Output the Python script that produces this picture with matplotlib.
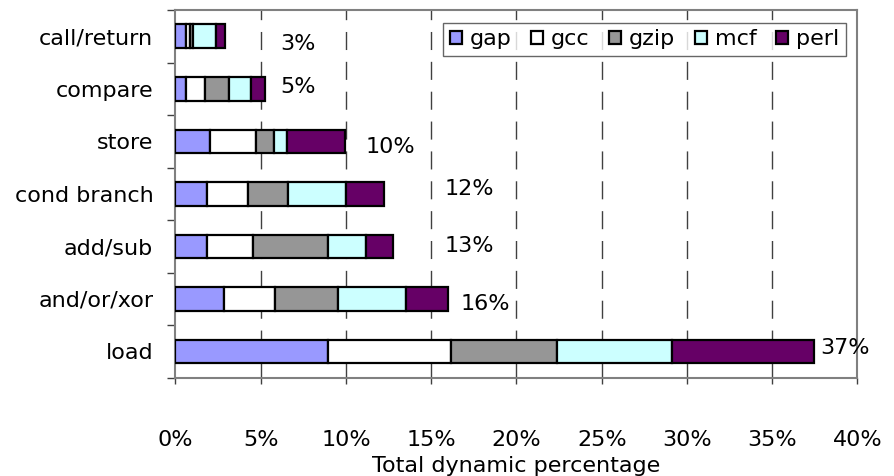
import matplotlib
matplotlib.use("Agg")
import matplotlib.pyplot as plt
import numpy as np

plt.rcParams['font.family'] = ['DejaVu Sans']
plt.rcParams['lines.scale_dashes'] = False

categories = ["load", "and/or/xor", "add/sub", "cond branch", "store", "compare", "call/return"]
series_names = ["gap", "gcc", "gzip", "mcf", "perl"]
gap = [8.96, 2.84, 1.86, 1.83, 2.02, 0.62, 0.62]
gcc = [7.17, 2.97, 2.70, 2.44, 2.70, 1.11, 0.21]
gzip = [6.25, 3.75, 4.36, 2.34, 1.06, 1.41, 0.18]
mcf = [6.74, 3.95, 2.23, 3.38, 0.76, 1.29, 1.35]
perl = [8.32, 2.50, 1.58, 2.25, 3.40, 0.82, 0.53]
total_labels = ["37%", "16%", "13%", "12%", "10%", "5%", "3%"]
xticks = [0, 5, 10, 15, 20, 25, 30, 35, 40]
xtick_labels = ["0%", "5%", "10%", "15%", "20%", "25%", "30%", "35%", "40%"]

# layout of the total labels (x in %, y offset from category centre)
label_x = [39.24, 18.20, 17.26, 17.26, 12.63, 7.18, 7.18]
label_dy = [0.07, -0.10, 0.01, 0.09, -0.11, 0.04, -0.14]

colors = ["#9999FF", "#FFFFFF", "#969696", "#CCFFFF", "#660066"]
FS = 16

fig = plt.figure(figsize=(8.95, 4.76), dpi=100)
ax = fig.add_axes([175.5 / 895, 1 - 377.7 / 476, 682 / 895, 367.7 / 476])

y = np.arange(len(categories))
left = np.zeros(len(categories))
for name, vals, c in zip(series_names, [gap, gcc, gzip, mcf, perl], colors):
    ax.barh(y, vals, left=left, height=0.45, color=c, edgecolor="black",
            linewidth=1.6, label=name, zorder=3)
    left = left + np.array(vals)

for i, (lab, lx, dy) in enumerate(zip(total_labels, label_x, label_dy)):
    ax.text(lx, i + dy, lab, ha="center", va="center", fontsize=FS, zorder=4)

ax.set_xlim(0, 40)
ax.set_ylim(-0.5, len(categories) - 0.5)

ax.set_xticks(xticks)
ax.set_xticklabels(xtick_labels, fontsize=FS)
ax.tick_params(axis="x", direction="out", length=4.5, width=1, color="#404040", pad=33)

ax.set_yticks(y)
ax.set_yticklabels(categories, fontsize=FS)
ax.tick_params(axis="y", which="major", length=0, pad=16)
ax.set_yticks(np.arange(-0.5, len(categories), 1.0), minor=True)
ax.tick_params(axis="y", which="minor", direction="out", length=6, width=1, color="#404040")

ax.set_axisbelow(True)
for xv in xticks[1:-1]:
    ax.axvline(xv, color="#404040", linewidth=1.0, linestyle=(0, (13, 8.5)), zorder=1)

for s in ["top", "right", "left", "bottom"]:
    ax.spines[s].set_color("#808080")
    ax.spines[s].set_linewidth(1.5)

fig.text(516.5 / 895, 1 - 466 / 476, "Total dynamic percentage", ha="center",
         va="center", fontsize=FS)

bx0 = (443 - 175.5) / 682
bx1 = (846 - 175.5) / 682
by0 = (377.7 - 61) / 367.7
by1 = (377.7 - 18) / 367.7
leg = ax.legend(loc="center", bbox_to_anchor=(bx0, by0, bx1 - bx0, by1 - by0),
                ncol=5, mode="expand", fontsize=FS, frameon=True, fancybox=False,
                handlelength=0.55, handleheight=0.55, handletextpad=0.35,
                columnspacing=0.4, borderpad=0.3, borderaxespad=0)
leg.get_frame().set_edgecolor("#404040")
leg.get_frame().set_linewidth(1.0)
leg.set_zorder(5)

fig.savefig("out.png", dpi=100)
